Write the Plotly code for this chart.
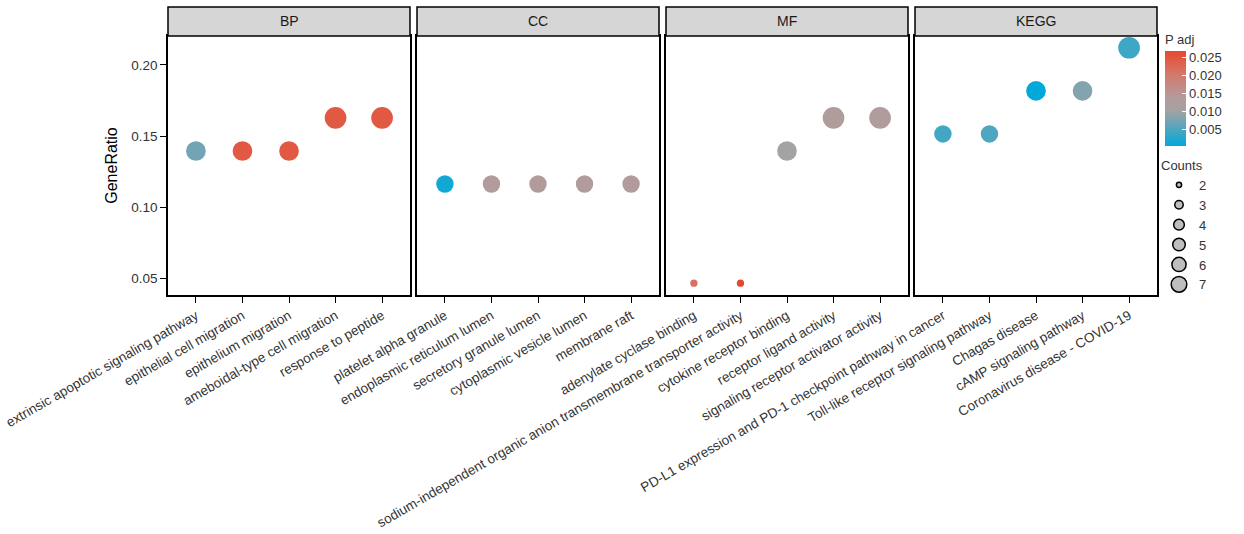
import plotly.graph_objects as go

# ---- data -------------------------------------------------------------
panels = ["BP", "CC", "MF", "KEGG"]

bp_terms = ["extrinsic apoptotic signaling pathway", "epithelial cell migration",
            "epithelium migration", "ameboidal-type cell migration", "response to peptide"]
bp_ratio = [0.1395, 0.1395, 0.1395, 0.1628, 0.1628]
bp_count = [6, 6, 6, 7, 7]
bp_padj = [0.0070, 0.0245, 0.0245, 0.0245, 0.0245]

cc_terms = ["platelet alpha granule", "endoplasmic reticulum lumen", "secretory granule lumen",
            "cytoplasmic vesicle lumen", "membrane raft"]
cc_ratio = [0.1163, 0.1163, 0.1163, 0.1163, 0.1163]
cc_count = [5, 5, 5, 5, 5]
cc_padj = [0.0012, 0.0135, 0.0135, 0.0135, 0.0135]

mf_terms = ["adenylate cyclase binding",
            "sodium-independent organic anion transmembrane transporter activity",
            "cytokine receptor binding", "receptor ligand activity",
            "signaling receptor activator activity"]
mf_ratio = [0.0465, 0.0465, 0.1395, 0.1628, 0.1628]
mf_count = [2, 2, 6, 7, 7]
mf_padj = [0.0215, 0.0267, 0.0100, 0.0132, 0.0132]

kegg_terms = ["PD-L1 expression and PD-1 checkpoint pathway in cancer",
              "Toll-like receptor signaling pathway", "Chagas disease",
              "cAMP signaling pathway", "Coronavirus disease - COVID-19"]
kegg_ratio = [0.1515, 0.1515, 0.1818, 0.1818, 0.2121]
kegg_count = [5, 5, 6, 6, 7]
kegg_padj = [0.0040, 0.0048, 0.0001, 0.0080, 0.0038]

y_ticks = [0.05, 0.10, 0.15, 0.20]
cb_ticks = [0.005, 0.010, 0.015, 0.020, 0.025]
legend_counts = [2, 3, 4, 5, 6, 7]

panel_data = [
    (bp_terms, bp_ratio, bp_count, bp_padj),
    (cc_terms, cc_ratio, cc_count, cc_padj),
    (mf_terms, mf_ratio, mf_count, mf_padj),
    (kegg_terms, kegg_ratio, kegg_count, kegg_padj),
]

# ---- colour scale for P adj: blue (small) -> grey -> red (large) ---------
colorscale = [
    [0.00, "#00A9DA"],
    [0.37, "#A3A3A3"],
    [0.52, "#B49A9A"],
    [0.76, "#D4786A"],
    [1.00, "#E8472F"],
]
all_padj = bp_padj + cc_padj + mf_padj + kegg_padj
cmin, cmax = min(all_padj), max(all_padj)

# point diameter: area grows linearly with the count
def point_size(n):
    return (53 + (n - 2) * 83.6) ** 0.5

# ---- layout geometry (pixels) ---------------------------------------------
W, H = 1244, 534
ML, MR, MT, MB = 168, 1244 - 1157, 7, 534 - 295
PW, PH = W - ML - MR, H - MT - MB
panel_px = [(168, 410), (417, 659), (666, 908), (915, 1157)]
plot_top = 36            # top of the panels (below the strips)

def px_x(x):
    return (x - ML) / PW

def px_y(y):
    return (H - MB - y) / PH

y_dom = [0, px_y(plot_top)]

all_ratio = bp_ratio + cc_ratio + mf_ratio + kegg_ratio
pad = 0.05 * (max(all_ratio) - min(all_ratio))
y_range = [min(all_ratio) - pad, max(all_ratio) + pad]

FONT = "Liberation Sans, Arial, Helvetica, sans-serif"
TEXT = "#333333"

fig = go.Figure()
layout = {}
shapes, annotations = [], []

for i, (name, (terms, ratio, count, padj)) in enumerate(zip(panels, panel_data)):
    k = "" if i == 0 else str(i + 1)
    fig.add_trace(go.Scatter(
        x=terms, y=ratio, mode="markers", xaxis="x" + k, yaxis="y" + k,
        showlegend=False,
        marker=dict(size=[point_size(c) for c in count], color=padj,
                    colorscale=colorscale, cmin=cmin, cmax=cmax,
                    showscale=(i == 0), line=dict(width=0), opacity=1,
                    colorbar=dict(
                        title=dict(text="P adj", side="top",
                                   font=dict(size=13, color=TEXT, family=FONT)),
                        x=px_x(1165), xanchor="left", xpad=0, ypad=0,
                        y=px_y(89), yanchor="middle",
                        thickness=21, len=115, lenmode="pixels",
                        outlinewidth=0, tickvals=cb_ticks,
                        ticktext=[f"{v:.3f}" for v in cb_ticks],
                        ticks="inside", ticklen=4, tickcolor="white", tickwidth=1.2,
                        tickfont=dict(size=13, color=TEXT, family=FONT),
                    )),
        hovertemplate="%{x}<br>GeneRatio %{y:.3f}<extra></extra>",
    ))
    x0, x1 = panel_px[i]
    layout["xaxis" + k] = dict(
        domain=[px_x(x0), px_x(x1)], anchor="y" + k, type="category",
        categoryorder="array", categoryarray=terms, range=[-0.6, len(terms) - 0.4],
        showline=True, linecolor="black", linewidth=1.5, mirror=True,
        ticks="outside", ticklen=6, tickwidth=1.2, tickcolor="black",
        tickangle=-30, tickfont=dict(size=13.5, color=TEXT, family=FONT),
        showgrid=False, zeroline=False, fixedrange=True, automargin=False,
    )
    layout["yaxis" + k] = dict(
        domain=y_dom, anchor="x" + k, range=y_range,
        showline=True, linecolor="black", linewidth=1.5, mirror=True,
        ticks="outside" if i == 0 else "", ticklen=6, tickwidth=1.2, tickcolor="black",
        tickvals=y_ticks, ticktext=[f"{v:.2f}" for v in y_ticks],
        showticklabels=(i == 0), tickfont=dict(size=13.5, color=TEXT, family=FONT),
        showgrid=False, zeroline=False, fixedrange=True, automargin=False,
    )
    if i == 0:
        layout["yaxis"]["title"] = dict(text="GeneRatio", standoff=10,
                                        font=dict(size=16, color="black", family=FONT))
    # facet strip above each panel
    shapes.append(dict(type="rect", xref="paper", yref="paper",
                       x0=px_x(x0), x1=px_x(x1), y0=px_y(plot_top), y1=1,
                       fillcolor="#D6D6D6", line=dict(color="black", width=1.5)))
    annotations.append(dict(text=name, xref="paper", yref="paper", showarrow=False,
                            x=px_x((x0 + x1) / 2), y=(px_y(plot_top) + 1) / 2,
                            xanchor="center", yanchor="middle",
                            font=dict(size=14, color="#1A1A1A", family=FONT)))

# size legend for the counts
for n in legend_counts:
    fig.add_trace(go.Scatter(
        x=[None], y=[None], mode="markers", name=str(n), showlegend=True,
        legendgroup="counts",
        marker=dict(size=point_size(n) * 0.72, color="#BEBEBE",
                    line=dict(color="black", width=1.5)),
    ))

fig.update_layout(
    width=W, height=H, margin=dict(l=ML, r=MR, t=MT, b=MB, autoexpand=False),
    paper_bgcolor="white", plot_bgcolor="white",
    font=dict(family=FONT, color=TEXT, size=13),
    shapes=shapes, annotations=annotations,
    legend=dict(
        title=dict(text="Counts", font=dict(size=13, color=TEXT, family=FONT)),
        x=px_x(1159), xanchor="left", y=px_y(153), yanchor="top",
        itemsizing="trace", tracegroupgap=0, bgcolor="rgba(0,0,0,0)",
        font=dict(size=13, color=TEXT, family=FONT), itemwidth=30,
    ),
    **layout,
)

fig.write_html("out.html")
